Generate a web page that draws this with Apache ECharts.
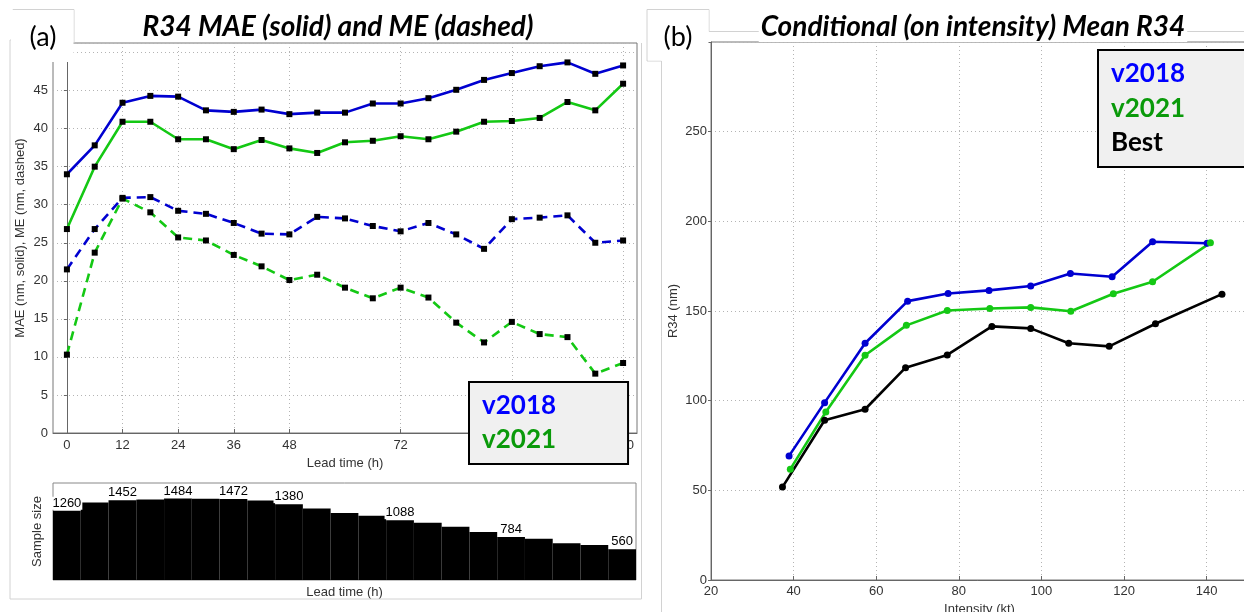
<!DOCTYPE html>
<html>
<head>
<meta charset="utf-8">
<script src="https://cdn.jsdelivr.net/npm/echarts@6/dist/echarts.min.js"></script>
<style>html,body{margin:0;padding:0;background:#fff}#c{width:1244px;height:612px}</style>
</head>
<body>
<div id="c"></div>
<script>
// ---- data: panel (a) ----
const leadHours = [0,6,12,18,24,30,36,42,48,54,60,66,72,78,84,90,96,102,108,114,120];
const leadTicks = [0,12,24,36,48,72,96,120];
const maeV2018 = [34.0,37.8,43.4,44.3,44.2,42.4,42.2,42.5,41.9,42.1,42.1,43.3,43.3,44.0,45.1,46.4,47.3,48.2,48.7,47.2,48.3];
const maeV2021 = [26.8,35.0,40.9,40.9,38.6,38.6,37.3,38.5,37.4,36.8,38.2,38.4,39.0,38.6,39.6,40.9,41.0,41.4,43.5,42.4,45.9];
const meV2018  = [21.5,26.8,30.9,31.0,29.2,28.8,27.6,26.2,26.1,28.4,28.2,27.2,26.5,27.6,26.1,24.2,28.1,28.3,28.6,25.0,25.3];
const meV2021  = [10.3,23.7,30.8,29.0,25.7,25.3,23.4,21.9,20.1,20.8,19.1,17.7,19.1,17.8,14.5,11.9,14.6,13.0,12.6,7.8,9.2];
const sampleSize = [1260,1412,1452,1466,1484,1480,1472,1446,1380,1300,1218,1168,1088,1040,968,872,784,750,668,636,560];
const sampleLabelHours = [0,12,24,36,48,72,96,120];
// ---- data: panel (b) ----
const intensityV2018 = [38.9,47.5,57.3,67.6,77.4,87.3,97.4,107.0,117.1,126.9,140.1];
const r34V2018       = [69.2,98.9,132.0,155.5,159.8,161.5,163.9,170.9,169.1,188.6,187.8];
const intensityV2021 = [39.2,47.8,57.3,67.3,77.2,87.5,97.4,107.1,117.4,126.9,140.9];
const r34V2021       = [61.8,93.7,125.3,142.0,150.3,151.4,152.0,149.9,159.6,166.3,188.0];
const intensityBest  = [37.3,47.5,57.3,67.1,77.2,88.0,97.4,106.6,116.4,127.6,143.7];
const r34Best        = [51.8,89.1,95.2,118.4,125.5,141.4,140.3,132.0,130.3,142.9,159.4];

const BLUE = '#0000d0', GREEN = '#14c814';
const tickFont = {fontFamily:'Liberation Sans', fontSize:13, color:'#333'};
const gridLine = {show:true, lineStyle:{color:'#b4b4b4', type:[1,3], width:1}};
const axLine = {show:true, lineStyle:{color:'#666', width:1}};

const pair = (xs, ys) => xs.map((x,i)=>[x, ys[i]]);
const leadPairs = ys => leadHours.map((h,i)=>[h, ys[i]]);

const chart = echarts.init(document.getElementById('c'), null, {renderer:'canvas'});

const lineMark = (name, ys, color, dashed) => ({
  name, type:'line', xAxisIndex:0, yAxisIndex:0, data: leadPairs(ys),
  symbol:'rect', symbolSize:6, itemStyle:{color:'#000'},
  lineStyle:{color, width:2.6, type: dashed ? [9,6] : 'solid'},
  emphasis:{disabled:true}, animation:false, z:3
});
const rMark = (name, xs, ys, color) => ({
  name, type:'line', xAxisIndex:2, yAxisIndex:2, data: pair(xs, ys),
  symbol:'circle', symbolSize:7, itemStyle:{color},
  lineStyle:{color, width:2.6}, emphasis:{disabled:true}, animation:false
});

const titleStyle = {fontFamily:'Lato', fontStyle:'italic', fontWeight:'bold', fontSize:28, lineHeight:30, color:'#000'};
const frame = '#d2d2d2';
const ln = (x1,y1,x2,y2) => ({type:'line', z:1, shape:{x1,y1,x2,y2}, style:{stroke:frame, lineWidth:1}});

chart.setOption({
  animation:false,
  backgroundColor:'#fff',
  title:[
    {text:'R34 MAE (solid) and ME (dashed)', left:336, top:12, textAlign:'center', padding:[0,2,0,2],
     backgroundColor:'#fff', z:50, textStyle:titleStyle},
    {text:'Conditional (on intensity) Mean R34', left:971, top:12, textAlign:'center', padding:[0,2,0,2],
     backgroundColor:'#fff', z:50, textStyle:titleStyle}
  ],
  legend:[
    {data:[{name:'v2018', textStyle:{color:'#0000ff'}},{name:'v2021', textStyle:{color:'#0a9a0a'}}],
     orient:'vertical', left:469, top:382, icon:'none', itemWidth:0, itemGap:4,
     padding:[9,72,9,8], backgroundColor:'#f0f0f0', borderColor:'#000', borderWidth:2,
     selectedMode:false, z:20,
     textStyle:{fontFamily:'Lato', fontWeight:'bold', fontSize:26, lineHeight:30}},
    {data:[{name:'v2018', textStyle:{color:'#0000ff'}},{name:'v2021', textStyle:{color:'#0a9a0a'}},{name:'Best', textStyle:{color:'#000'}}],
     orient:'vertical', left:1098, top:50, icon:'none', itemWidth:0, itemGap:4.5,
     padding:[9,120,9,8], backgroundColor:'#f0f0f0', borderColor:'#000', borderWidth:2,
     selectedMode:false, z:20,
     textStyle:{fontFamily:'Lato', fontWeight:'bold', fontSize:26, lineHeight:30}}
  ],
  grid:[
    {left:53, top:43, width:584, height:390, show:true, borderColor:'#777', borderWidth:1, containLabel:false, outerBoundsMode:'none'},
    {left:53, top:483, width:583, height:97, show:true, borderColor:'#888', borderWidth:1, containLabel:false, outerBoundsMode:'none'},
    {left:711, top:42, width:537, height:538, show:true, borderColor:'#777', borderWidth:1, containLabel:false, outerBoundsMode:'none'}
  ],
  xAxis:[
    {type:'value', gridIndex:0, min:-3, max:123, name:'Lead time (h)', nameLocation:'middle', nameGap:22,
     nameTextStyle:tickFont, axisLine:axLine,
     axisTick:{show:true, customValues:leadTicks, length:4, inside:true, lineStyle:{color:'#666'}},
     axisLabel:Object.assign({customValues:leadTicks, margin:6}, tickFont),
     splitLine:gridLine},
    {type:'category', gridIndex:1, data:leadHours.map(String), boundaryGap:true,
     name:'Lead time (h)', nameLocation:'middle', nameGap:6, nameTextStyle:tickFont,
     axisLine:{show:false}, axisTick:{show:false}, axisLabel:{show:false}, splitLine:{show:false}},
    {type:'value', gridIndex:2, min:20, max:150, interval:20, name:'Intensity (kt)', nameLocation:'middle', nameGap:20,
     nameTextStyle:tickFont, axisLine:axLine,
     axisTick:{show:true, length:4, inside:true, lineStyle:{color:'#666'}},
     axisLabel:Object.assign({margin:5, formatter:v => (v % 20 === 0 ? String(v) : '')}, tickFont),
     splitLine:gridLine}
  ],
  yAxis:[
    {type:'value', gridIndex:0, min:0, max:51.25, interval:5, name:'MAE (nm, solid), ME (nm, dashed)',
     nameLocation:'middle', nameGap:26, nameTextStyle:tickFont, axisLine:axLine,
     axisTick:{show:true, length:3, lineStyle:{color:'#666'}},
     axisLabel:Object.assign({margin:5, formatter:v => (v % 5 === 0 && v < 50 ? String(v) : '')}, tickFont),
     splitLine:gridLine},
    {type:'value', gridIndex:1, min:0, max:1765, name:'Sample size', nameLocation:'middle', nameGap:9,
     nameTextStyle:tickFont, axisLine:{show:false}, axisTick:{show:false}, axisLabel:{show:false}, splitLine:{show:false}},
    {type:'value', gridIndex:2, min:0, max:300, interval:50, name:'R34 (nm)', nameLocation:'middle', nameGap:31,
     nameTextStyle:tickFont, axisLine:axLine,
     axisTick:{show:true, length:3, lineStyle:{color:'#666'}},
     axisLabel:Object.assign({margin:4, formatter:v => (v < 300 ? String(v) : '')}, tickFont),
     splitLine:gridLine}
  ],
  series:[
    lineMark('v2018', maeV2018, BLUE, false),
    lineMark('v2021', maeV2021, GREEN, false),
    lineMark('v2018', meV2018, BLUE, true),
    lineMark('v2021', meV2021, GREEN, true),
    {name:'Sample size', type:'bar', xAxisIndex:1, yAxisIndex:1, barCategoryGap:0,
     itemStyle:{color:'#000'}, emphasis:{disabled:true}, animation:false,
     data: sampleSize.map((v,i)=>({value:v, label:{show: sampleLabelHours.includes(leadHours[i])}})),
     label:{position:'top', distance:1, fontFamily:'Liberation Sans', fontSize:13, color:'#000',
            backgroundColor:'#fff', padding:[0,1,0,1]}},
    rMark('v2018', intensityV2018, r34V2018, BLUE),
    rMark('v2021', intensityV2021, r34V2021, GREEN),
    rMark('Best', intensityBest, r34Best, '#000')
  ],
  graphic:[
    ln(13,9.5,74,9.5), ln(13,9.5,13,40), ln(10,40,13,40), ln(10,40,10,599), ln(74,9.5,74,43),
    ln(10,599,641.5,599), ln(641.5,43,641.5,599),
    ln(647,9.5,709,9.5), ln(647,9.5,647,61), ln(709,9.5,709,31.5), ln(647,61,661.5,61), ln(661.5,61,661.5,612),
    ln(709,31.5,1244,31.5),
    {type:'rect', z:100, shape:{x:11, y:10, width:62.5, height:52}, style:{fill:'#fff'}},
    {type:'rect', z:100, shape:{x:648, y:10, width:60.5, height:50.5}, style:{fill:'#fff'}},
    {type:'text', z:102, style:{text:'(a)', x:43, y:37, align:'center', verticalAlign:'middle',
      font:'normal 27px Lato', fill:'#000'}},
    {type:'text', z:102, style:{text:'(b)', x:678, y:37, align:'center', verticalAlign:'middle',
      font:'normal 27px Lato', fill:'#000'}}
  ]
});
</script>
</body>
</html>
